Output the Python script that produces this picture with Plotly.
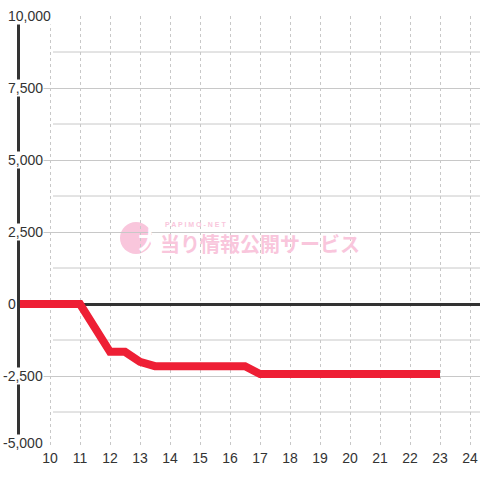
import plotly.graph_objects as go

# ---- data ----
hours = [9, 10, 11, 12, 12.5, 13, 13.5, 14, 15, 16, 16.5, 17, 18, 19, 20, 21, 22, 23]
balance = [0, 0, 0, -1660, -1660, -2010, -2160, -2160, -2160, -2160, -2160, -2430,
           -2430, -2430, -2430, -2430, -2430, -2430]
x_ticks = [10, 11, 12, 13, 14, 15, 16, 17, 18, 19, 20, 21, 22, 23, 24]
y_ticks = [10000, 7500, 5000, 2500, 0, -2500, -5000]
y_tick_text = ["10,000", "7,500", "5,000", "2,500", "0", "-2,500", "-5,000"]

X_MIN, X_MAX = 9, 24.333
Y_MIN, Y_MAX = -5000, 10000
TXT = "#333333"
GRID = "#c8c8c8"
PINK = "#f9c6dc"

fig = go.Figure()
fig.add_trace(go.Scatter(x=hours, y=balance, mode="lines",
                         line=dict(color="#ee1f35", width=8),
                         hoverinfo="skip", showlegend=False))

shapes = []
# minor horizontal gridlines (midpoints between major ticks)
ys = sorted(y_ticks)
for a, b in zip(ys[:-1], ys[1:]):
    m = (a + b) / 2
    shapes.append(dict(type="line", xref="x", yref="y", x0=x_ticks[0] + 0.1, x1=X_MAX,
                       y0=m, y1=m, line=dict(color=GRID, width=1), layer="below"))

# watermark circle
shapes.append(dict(type="circle", xref="paper", yref="paper",
                   x0=0.2174, x1=0.287, y0=0.449, y1=0.523,
                   fillcolor=PINK, line=dict(width=0), layer="below"))

annotations = []
for v, t in zip(y_ticks, y_tick_text):
    annotations.append(dict(x=-0.0391 if v < 0 else -0.0283, xref="paper", y=v, yref="y",
                            text=t, showarrow=False, xanchor="left", yanchor="middle",
                            yshift=5 if v == Y_MIN else 0,
                            bgcolor="white", borderpad=0,
                            font=dict(family="Liberation Sans, Arial", size=14, color=TXT)))

# watermark text
annotations += [
    dict(x=0.2522, y=0.486, xref="paper", yref="paper", text="<b>大</b>", showarrow=False,
         font=dict(family="Noto Sans CJK JP", size=24, color="white")),
    dict(x=0.3109, y=0.5185, xref="paper", yref="paper", text="<b>P A P I M O - N E T</b>",
         showarrow=False, xanchor="left",
         font=dict(family="Liberation Sans, Arial", size=7, color=PINK)),
    dict(x=0.5217, y=0.4745, xref="paper", yref="paper", text="<b>当り情報公開サービス</b>",
         showarrow=False,
         font=dict(family="Noto Sans CJK JP", size=20, color=PINK)),
]

fig.update_layout(
    width=480, height=480,
    margin=dict(l=20, r=0, t=16, b=32),
    paper_bgcolor="white", plot_bgcolor="white",
    shapes=shapes, annotations=annotations,
    xaxis=dict(range=[X_MIN, X_MAX], tickvals=x_ticks, ticktext=[str(v) for v in x_ticks],
               showgrid=True, gridcolor=GRID, griddash="dot", gridwidth=1,
               zeroline=False, showline=False, ticks="",
               tickfont=dict(family="Liberation Sans, Arial", size=14, color=TXT)),
    yaxis=dict(range=[Y_MIN, Y_MAX], tickvals=y_ticks, showticklabels=False,
               showgrid=True, gridcolor=GRID, gridwidth=1,
               zeroline=True, zerolinecolor=TXT, zerolinewidth=3,
               showline=True, linecolor=TXT, linewidth=3, ticks=""),
)

fig.write_html("out.html", config={"displayModeBar": False},
               post_script="document.body.style.margin='0';")
